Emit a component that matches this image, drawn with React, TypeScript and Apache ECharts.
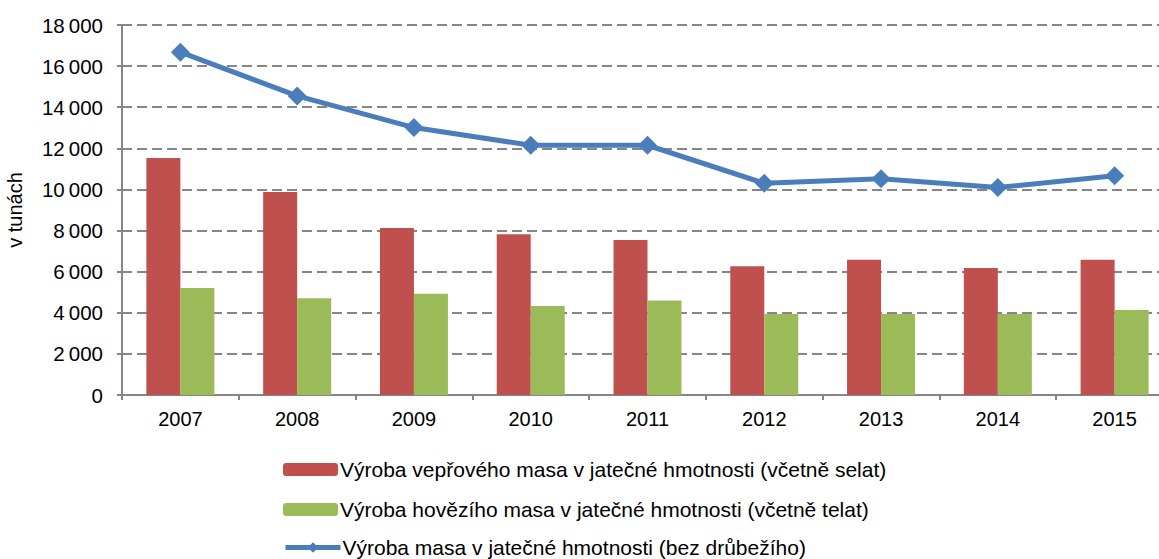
import React, { useEffect, useRef } from "react";
import * as echarts from "echarts";

const years = ["2007", "2008", "2009", "2010", "2011", "2012", "2013", "2014", "2015"];
const porkValues = [11530, 9870, 8130, 7820, 7540, 6260, 6580, 6180, 6580];
const beefValues = [5210, 4710, 4930, 4330, 4600, 3940, 3940, 3940, 4130];
const totalValues = [16680, 14550, 13010, 12150, 12150, 10300, 10520, 10090, 10670];
const seriesNames = [
  "Výroba vepřového masa v jatečné hmotnosti (včetně selat)",
  "Výroba hovězího masa v jatečné hmotnosti (včetně telat)",
  "Výroba masa v jatečné hmotnosti (bez drůbežího)",
];
const yAxisName = "v tunách";

const FONT = "'Liberation Sans', Arial, sans-serif";

export default function App() {
  const ref = useRef<HTMLDivElement>(null);
  useEffect(() => {
    if (!ref.current) return;
    const chart = echarts.init(ref.current, undefined, { renderer: "svg" });
    const legendBase = (name: string, top: number) => ({
      orient: "vertical",
      left: 283,
      top,
      padding: 0,
      itemWidth: 55,
      itemHeight: 13,
      itemGap: 0,
      lineStyle: { width: 5 },
      textStyle: { fontSize: 21, color: "#000", fontFamily: FONT, padding: [0, 0, 0, -3] },
      data: [name],
    });
    chart.setOption({
      animation: false,
      backgroundColor: "#ffffff",
      textStyle: { fontFamily: FONT },
      grid: { left: 122, top: 25, height: 370, width: 1051, outerBoundsMode: "none", containLabel: false },
      legend: [
        legendBase(seriesNames[0], 459),
        legendBase(seriesNames[1], 499),
        legendBase(seriesNames[2], 537),
      ],
      xAxis: {
        type: "category",
        data: years,
        axisLine: { show: true, lineStyle: { color: "#868686", width: 2 } },
        axisTick: { show: true, length: 5, lineStyle: { color: "#868686", width: 2 } },
        axisLabel: { fontSize: 20, color: "#000", margin: 14, fontFamily: FONT },
      },
      yAxis: {
        type: "value",
        min: 0,
        max: 18000,
        interval: 2000,
        name: yAxisName,
        nameLocation: "middle",
        nameRotate: 90,
        nameGap: 97,
        nameTextStyle: { fontSize: 20, color: "#000", fontFamily: FONT },
        axisLine: { show: true, lineStyle: { color: "#868686", width: 2 } },
        axisTick: { show: true, length: 5, lineStyle: { color: "#868686", width: 2 } },
        axisLabel: {
          fontSize: 20.5,
          color: "#000",
          margin: 19,
          fontFamily: FONT,
          formatter: (v: number) => String(v).replace(/\B(?=(\d{3})+(?!\d))/g, "\u2009"),
        },
        splitLine: {
          show: true,
          lineStyle: { color: "#868686", width: 2, type: [10, 5] },
        },
      },
      series: [
        {
          name: seriesNames[0],
          type: "bar",
          data: porkValues,
          barWidth: 34,
          barGap: "0%",
          itemStyle: { color: "#C0504D" },
        },
        {
          name: seriesNames[1],
          type: "bar",
          data: beefValues,
          barWidth: 34,
          barGap: "0%",
          itemStyle: { color: "#9BBB59" },
        },
        {
          name: seriesNames[2],
          type: "line",
          data: totalValues,
          symbol: "diamond",
          symbolSize: 19,
          lineStyle: { color: "#4A7EBB", width: 5 },
          itemStyle: { color: "#4A7EBB" },
        },
      ],
    });
    return () => chart.dispose();
  }, []);
  return (
    <div
      ref={ref}
      style={{ position: "fixed", left: 0, top: 0, width: 1159, height: 559, background: "#fff" }}
    />
  );
}
